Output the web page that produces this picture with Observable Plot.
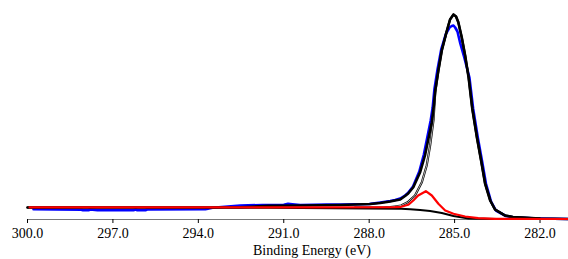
<!DOCTYPE html>
<html>
<head>
<meta charset="utf-8">
<script src="https://cdn.jsdelivr.net/npm/d3@7"></script>
<script src="https://cdn.jsdelivr.net/npm/@observablehq/plot@0.6"></script>
<style>
  html, body { margin: 0; padding: 0; background: #fff; }
  #chart svg { display: block; }
</style>
</head>
<body>
<div id="chart"></div>
<script>
// Tick labels (binding energy, eV)
const xTicks = [300, 297, 294, 291, 288, 285, 282];
const xTitle = "Binding Energy (eV)";

// Raw spectrum (blue)
const rawE = [299.79, 299.0, 298.11, 298.05, 297.86, 297.80, 297.54, 297.2, 296.28, 296.20, 296.14, 295.86, 295.80, 293.75, 293.5, 292.53, 291.75, 291.0, 290.85, 290.70, 290.42, 289.5, 289.0, 288.5, 288.0, 287.61, 287.26, 287.09, 286.91, 286.74, 286.64, 286.46, 286.24, 286.08, 285.96, 285.84, 285.77, 285.71, 285.60, 285.47, 285.30, 285.18, 285.10, 285.04, 284.98, 284.90, 284.80, 284.66, 284.48, 284.35, 284.18, 284.04, 283.90, 283.72, 283.55, 283.2, 282.9, 282.0, 281.0];
const rawI = [10.2, 10, 9.8, 9.2, 9.2, 10, 9.2, 9.2, 9.2, 10, 9.2, 9.2, 10, 10.2, 11.8, 14, 14.5, 14.8, 15.6, 15.2, 14.5, 15, 15, 15.2, 15.5, 17, 18.5, 19.5, 21, 24, 26.5, 33, 48, 65, 82, 99, 112, 130, 150, 170, 186, 192, 193.5, 194, 192, 188, 176, 162, 142, 111, 81, 59, 36, 18, 9, 3.5, 2, 1, 0.5];

// Fitted envelope (thick black)
const envE = [300.0, 292.53, 291.54, 290.42, 289.02, 287.96, 287.61, 287.26, 287.09, 286.91, 286.74, 286.63, 286.45, 286.21, 286.04, 285.92, 285.80, 285.74, 285.68, 285.57, 285.45, 285.27, 285.16, 285.04, 284.95, 284.87, 284.75, 284.63, 284.51, 284.38, 284.21, 284.07, 283.93, 283.75, 283.58, 283.23, 282.95, 282.0, 281.0];
const envI = [12, 12.2, 13.7, 14, 14.5, 15.5, 16.5, 18, 19, 20, 23.5, 26, 32.3, 47.3, 64, 80.7, 97.3, 111, 129, 149, 169, 189, 200, 205, 203, 197.3, 182.3, 164, 142.3, 111, 81, 59, 36, 19, 10, 4, 2.5, 1, 0.5];

// Main C-C component + background (thin line)
const ccE = [288.5, 287.5, 287.26, 287.09, 286.88, 286.65, 286.39, 286.15, 285.98, 285.86, 285.74, 285.68, 285.57, 285.45, 285.27, 285.16, 285.04, 284.95, 284.87, 284.75, 284.63, 284.51, 284.38, 284.21, 284.07, 283.93, 283.75, 283.58, 283.23, 282.95, 282.0];
const ccI = [11.8, 12, 12.3, 13, 14, 17.3, 24, 37.3, 54, 74, 100, 127, 149, 169, 189, 200, 205, 203, 197.3, 182.3, 164, 142.3, 111, 81, 59, 36, 19, 10, 4, 2.5, 1];

// C-O component + background (red)
const coE = [299.93, 290.0, 287.09, 286.88, 286.63, 286.45, 286.28, 286.01, 285.80, 285.57, 285.33, 285.04, 284.63, 284.17, 283.58, 281.0];
const coI = [12.2, 12.2, 12.3, 12.7, 14.7, 19, 24, 28.3, 24, 15.7, 9, 5.7, 3, 1.3, 0.7, 0.5];

// Background (black)
const bgE = [300.0, 291.54, 289.19, 288.04, 286.88, 286.56, 286.21, 285.86, 285.45, 285.04, 284.51, 283.5, 281.0];
const bgI = [12, 11.7, 11.2, 11, 10.7, 10.3, 9.5, 8.5, 6.5, 3.5, 1, 0.5, 0.5];

const toRows = (E, I) => E.map((e, i) => ({e, v: I[i]}));
const raw = toRows(rawE, rawI);
const env = toRows(envE, envI);
const cc = toRows(ccE, ccI);
const co = toRows(coE, coI);
const bg = toRows(bgE, bgI);

const font = "Liberation Serif";

const chart = Plot.plot({
  width: 568,
  height: 259,
  marginLeft: 27,
  marginRight: 0,
  marginTop: 10,
  marginBottom: 40,
  style: {fontFamily: font, fontSize: "14px"},
  x: {domain: [300, 281], axis: null},
  y: {domain: [0, 209], axis: null},
  marks: [
    Plot.ruleY([0], {stroke: "#777", strokeWidth: 1}),
    Plot.axisX({ticks: xTicks, tickFormat: d3.format(".1f"), tickSize: 4, tickPadding: 5, fontSize: 14, fill: "#000", label: null}),
    Plot.text([xTitle], {frameAnchor: "bottom", dx: 14, dy: 31, lineAnchor: "middle", fontSize: 14, fontFamily: font, fill: "#000"}),
    Plot.line(raw, {x: "e", y: "v", stroke: "#0000ff", strokeWidth: 2.6}),
    Plot.line(cc, {x: "e", y: "v", stroke: "#000", strokeWidth: 2.2}),
    Plot.line(cc, {x: "e", y: "v", stroke: "#fff", strokeWidth: 0.7}),
    Plot.line(bg, {x: "e", y: "v", stroke: "#000", strokeWidth: 2}),
    Plot.line(env, {x: "e", y: "v", stroke: "#000", strokeWidth: 2.6}),
    Plot.line(co, {x: "e", y: "v", stroke: "#ff0000", strokeWidth: 2.2})
  ]
});
document.getElementById("chart").appendChild(chart);
</script>
</body>
</html>
